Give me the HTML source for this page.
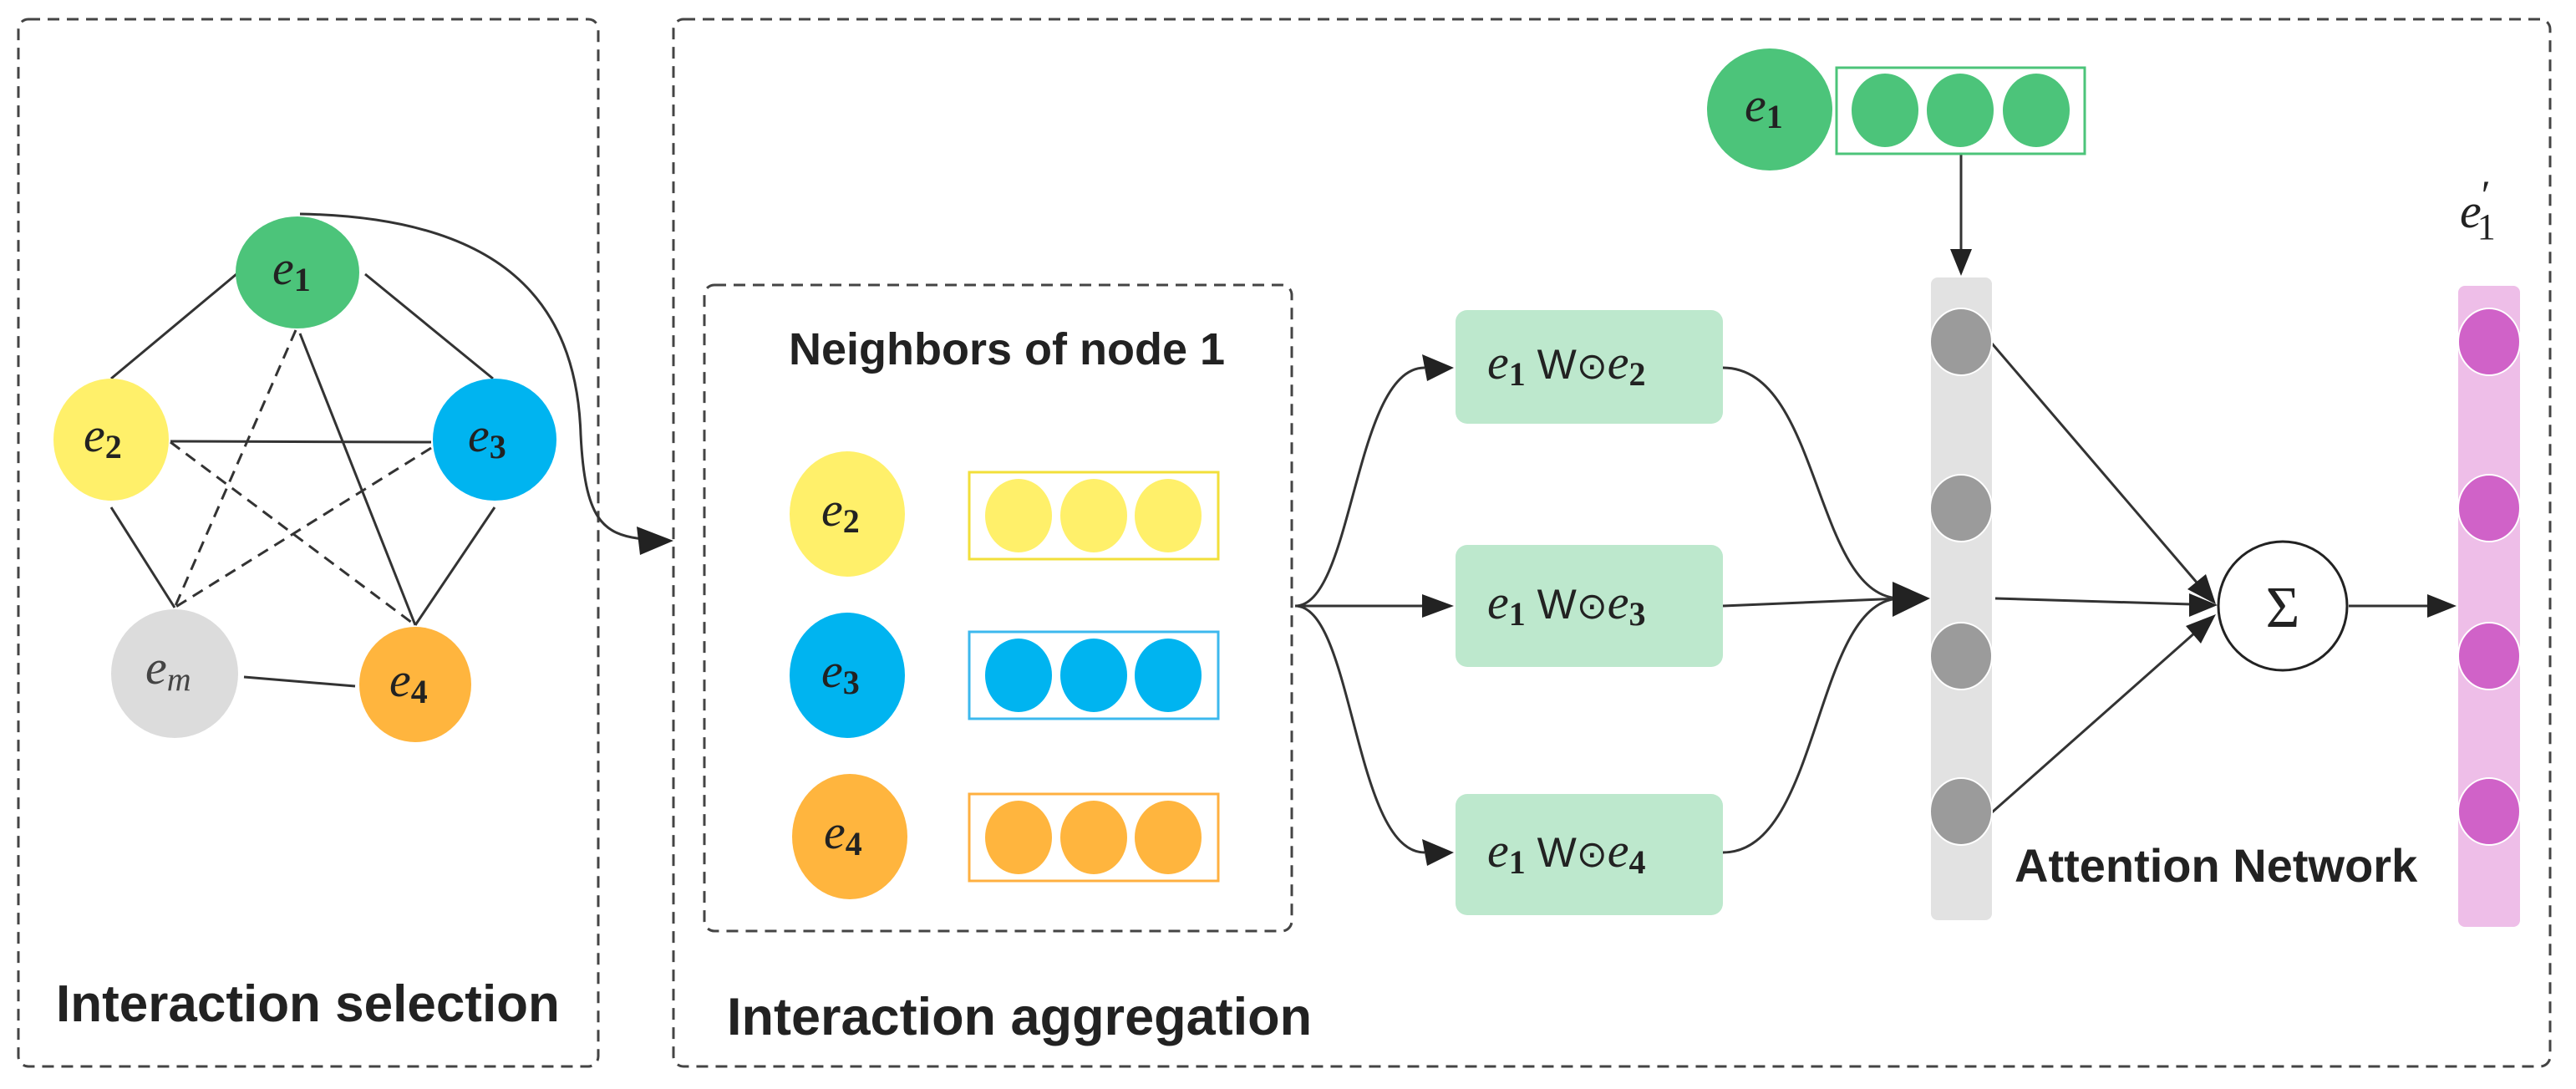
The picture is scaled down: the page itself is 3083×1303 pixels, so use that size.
<!DOCTYPE html>
<html><head><meta charset="utf-8"><style>
html,body{margin:0;padding:0;background:#fff}
svg{display:block}
.m{font-family:"Liberation Serif",serif;font-style:italic;font-size:58px;fill:#222}
.s{font-family:"Liberation Serif",serif;font-style:normal;font-weight:bold;font-size:40px}
.b{font-family:"Liberation Sans",sans-serif;font-weight:bold;fill:#222}
</style></head><body>
<svg width="3083" height="1303" viewBox="0 0 3083 1303" xmlns="http://www.w3.org/2000/svg">
<g fill="none" stroke="#444" stroke-width="3" stroke-dasharray="14 9">
<rect x="22" y="23" width="694" height="1253" rx="12"/>
<rect x="806" y="23" width="2246" height="1253" rx="12"/>
<rect x="843" y="341" width="703" height="773" rx="12"/>
</g>
<g stroke="#333" stroke-width="3" fill="none">
<line x1="283" y1="328" x2="133" y2="453"/>
<line x1="437" y1="328" x2="590" y2="453"/>
<line x1="204" y1="528" x2="516" y2="529"/>
<line x1="359" y1="399" x2="497" y2="748"/>
<line x1="133" y1="607" x2="209" y2="727"/>
<line x1="592" y1="607" x2="497" y2="748"/>
<line x1="292" y1="810" x2="425" y2="821"/>
<g stroke-dasharray="14 9">
<line x1="354" y1="395" x2="209" y2="727"/>
<line x1="204" y1="529" x2="497" y2="748"/>
<line x1="516" y1="536" x2="209" y2="727"/>
</g>
<path d="M359 256 C 600 260 690 360 695 520 C 700 620 720 640 770 645"/>
</g>
<polygon points="806,647 762,630 766,664" fill="#222"/>
<ellipse cx="356" cy="326" rx="74" ry="67" fill="#4cc47a"/>
<ellipse cx="133" cy="526" rx="69" ry="73" fill="#fff06a"/>
<ellipse cx="592" cy="526" rx="74" ry="73" fill="#00b4f0"/>
<ellipse cx="209" cy="806" rx="76" ry="77" fill="#dcdcdc"/>
<ellipse cx="497" cy="819" rx="67" ry="69" fill="#ffb53e"/>
<text class="m" x="326" y="340">e<tspan class="s" dy="8">1</tspan></text>
<text class="m" x="100" y="540">e<tspan class="s" dy="8">2</tspan></text>
<text class="m" x="560" y="540">e<tspan class="s" dy="8">3</tspan></text>
<text class="m" x="174" y="818" style="fill:#444">e<tspan dy="8" font-size="40">m</tspan></text>
<text class="m" x="466" y="833">e<tspan class="s" dy="8">4</tspan></text>
<text class="b" x="67" y="1222" font-size="62">Interaction selection</text>
<text class="b" x="870" y="1238" font-size="63">Interaction aggregation</text>
<text class="b" x="944" y="436" font-size="54">Neighbors of node 1</text>
<ellipse cx="1014" cy="615" rx="69" ry="75" fill="#fff06a"/>
<ellipse cx="1014" cy="808" rx="69" ry="75" fill="#00b4f0"/>
<ellipse cx="1017" cy="1001" rx="69" ry="75" fill="#ffb53e"/>
<text class="m" x="983" y="629">e<tspan class="s" dy="8">2</tspan></text>
<text class="m" x="983" y="822">e<tspan class="s" dy="8">3</tspan></text>
<text class="m" x="986" y="1015">e<tspan class="s" dy="8">4</tspan></text>
<rect x="1160" y="565" width="298" height="104" fill="none" stroke="#f2df3a" stroke-width="3"/>
<rect x="1160" y="756" width="298" height="104" fill="none" stroke="#3cb8ee" stroke-width="3"/>
<rect x="1160" y="950" width="298" height="104" fill="none" stroke="#ffb040" stroke-width="3"/>
<g fill="#fff06a"><ellipse cx="1219" cy="617" rx="40" ry="44"/><ellipse cx="1309" cy="617" rx="40" ry="44"/><ellipse cx="1398" cy="617" rx="40" ry="44"/></g>
<g fill="#00b4f0"><ellipse cx="1219" cy="808" rx="40" ry="44"/><ellipse cx="1309" cy="808" rx="40" ry="44"/><ellipse cx="1398" cy="808" rx="40" ry="44"/></g>
<g fill="#ffb53e"><ellipse cx="1219" cy="1002" rx="40" ry="44"/><ellipse cx="1309" cy="1002" rx="40" ry="44"/><ellipse cx="1398" cy="1002" rx="40" ry="44"/></g>
<g stroke="#333" stroke-width="3" fill="none">
<path d="M1550 725 C 1620 725 1620 440 1705 440"/>
<path d="M1550 725 L 1705 725"/>
<path d="M1550 725 C 1620 725 1620 1020 1705 1020"/>
<path d="M2062 440 C 2180 440 2170 716 2275 716"/>
<path d="M2062 725 L 2275 716"/>
<path d="M2062 1020 C 2180 1020 2170 716 2275 716"/>
<line x1="2347" y1="184" x2="2347" y2="300"/>
<line x1="2384" y1="411" x2="2630" y2="698"/>
<line x1="2388" y1="716" x2="2622" y2="723"/>
<line x1="2384" y1="972" x2="2627" y2="757"/>
<line x1="2811" y1="725" x2="2905" y2="725"/>
</g>
<g fill="#222">
<polygon points="1740,440 1702,424 1708,456"/>
<polygon points="1740,725 1702,711 1702,739"/>
<polygon points="1740,1020 1702,1004 1708,1036"/>
<polygon points="2310,716 2265,696 2265,738"/>
<polygon points="2347,330 2334,298 2360,298"/>
<polygon points="2654,724 2620,710 2620,738"/>
<polygon points="2652,723 2618,705 2640,687"/>
<polygon points="2652,735 2634,770 2616,749"/>
<polygon points="2940,725 2905,711 2905,739"/>
</g>
<g fill="#bde8cd">
<rect x="1742" y="371" width="320" height="136" rx="14"/>
<rect x="1742" y="652" width="320" height="146" rx="14"/>
<rect x="1742" y="950" width="320" height="145" rx="14"/>
</g>
<text class="m" x="1780" y="453">e<tspan class="s" dy="8">1</tspan><tspan dy="-8" font-style="normal" font-family="Liberation Sans" font-size="50"> W</tspan><tspan font-style="normal" font-size="44">⊙</tspan>e<tspan class="s" dy="8">2</tspan></text>
<text class="m" x="1780" y="740">e<tspan class="s" dy="8">1</tspan><tspan dy="-8" font-style="normal" font-family="Liberation Sans" font-size="50"> W</tspan><tspan font-style="normal" font-size="44">⊙</tspan>e<tspan class="s" dy="8">3</tspan></text>
<text class="m" x="1780" y="1037">e<tspan class="s" dy="8">1</tspan><tspan dy="-8" font-style="normal" font-family="Liberation Sans" font-size="50"> W</tspan><tspan font-style="normal" font-size="44">⊙</tspan>e<tspan class="s" dy="8">4</tspan></text>
<ellipse cx="2118" cy="131" rx="75" ry="73" fill="#4cc47a"/>
<text class="m" x="2088" y="145">e<tspan class="s" dy="8">1</tspan></text>
<rect x="2198" y="81" width="297" height="103" fill="none" stroke="#4cc47a" stroke-width="3"/>
<g fill="#4cc47a"><ellipse cx="2256" cy="132" rx="40" ry="44"/><ellipse cx="2346" cy="132" rx="40" ry="44"/><ellipse cx="2437" cy="132" rx="40" ry="44"/></g>
<rect x="2311" y="332" width="73" height="769" rx="8" fill="#e2e2e2"/>
<g fill="#9b9b9b" stroke="#fff" stroke-width="2"><ellipse cx="2347" cy="409" rx="37" ry="40"/><ellipse cx="2347" cy="608" rx="37" ry="40"/><ellipse cx="2347" cy="785" rx="37" ry="40"/><ellipse cx="2347" cy="971" rx="37" ry="40"/></g>
<rect x="2942" y="342" width="74" height="767" rx="8" fill="#eebee8"/>
<g fill="#d062c8" stroke="#fff" stroke-width="2"><ellipse cx="2979" cy="409" rx="37" ry="40"/><ellipse cx="2979" cy="608" rx="37" ry="40"/><ellipse cx="2979" cy="785" rx="37" ry="40"/><ellipse cx="2979" cy="971" rx="37" ry="40"/></g>
<text class="m" x="2944" y="272" font-size="64">e<tspan font-style="normal" font-size="50" dy="-22">′</tspan><tspan font-style="normal" font-size="44" dx="-16" dy="36">1</tspan></text>
<circle cx="2732" cy="725" r="77" fill="#fff" stroke="#222" stroke-width="3"/>
<text x="2732" y="750" text-anchor="middle" font-family="Liberation Serif,serif" font-size="70" fill="#222">Σ</text>
<text class="b" x="2411" y="1055" font-size="56">Attention Network</text>
</svg>
</body></html>
